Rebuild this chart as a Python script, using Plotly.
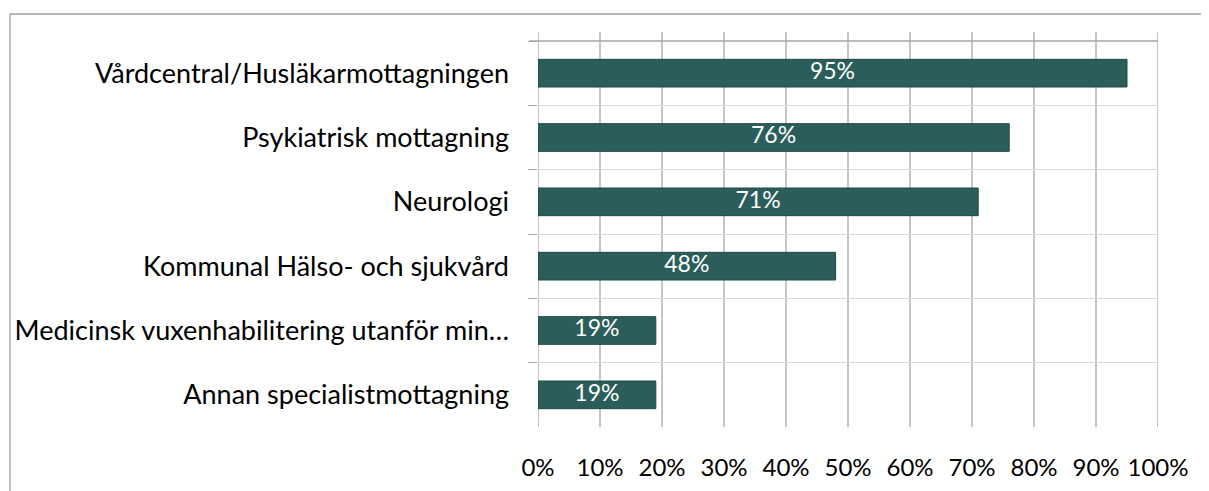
import plotly.graph_objects as go

categories = [
    "Vårdcentral/Husläkarmottagningen",
    "Psykiatrisk mottagning",
    "Neurologi",
    "Kommunal Hälso- och sjukvård",
    "Medicinsk vuxenhabilitering utanför min…",
    "Annan specialistmottagning",
]
values = [0.95, 0.76, 0.71, 0.48, 0.19, 0.19]
x_ticks = [0, 0.1, 0.2, 0.3, 0.4, 0.5, 0.6, 0.7, 0.8, 0.9, 1.0]
x_tick_labels = ["0%", "10%", "20%", "30%", "40%", "50%", "60%", "70%", "80%", "90%", "100%"]

FONT = "Lato"
OFF = 8  # default body margin of the html page
W, H = 1209 - OFF, 491 - OFF
L, R, T, B = 538 - OFF, 51, 41 - OFF, 64
pw, ph = W - L - R, H - T - B

fig = go.Figure()
fig.add_trace(go.Bar(
    y=categories, x=values, orientation="h",
    marker=dict(color="#2b5e5b", line=dict(color="#204845", width=1)),
    width=0.43,
    hoverinfo="skip",
))
fig.add_trace(go.Scatter(
    y=categories, x=[v / 2 for v in values], mode="text",
    text=[f"{round(v*100)}%" for v in values],
    textposition="middle center",
    textfont=dict(family=FONT, size=23, color="white"),
    hoverinfo="skip", cliponaxis=False,
))

shapes = []
for t in x_ticks:
    shapes.append(dict(type="line", xref="x", yref="paper", x0=t, x1=t,
                       y0=0, y1=1 + 9 / ph, line=dict(color="#a6a6a6", width=1.3), layer="below"))
shapes.append(dict(type="line", xref="paper", yref="paper", x0=-9 / pw, x1=1, y0=1, y1=1,
                   line=dict(color="#a6a6a6", width=1.3), layer="below"))
shapes.append(dict(type="rect", xref="paper", yref="paper",
                   x0=(10 - OFF - L) / pw, x1=(W + 5 - L) / pw,
                   y0=-(B + 20) / ph, y1=(ph + T - (14 - OFF)) / ph,
                   line=dict(color="#a0a0a0", width=1.3), fillcolor="rgba(0,0,0,0)", layer="below"))

fig.update_layout(
    width=W, height=H,
    margin=dict(l=L, r=R, t=T, b=B, autoexpand=False),
    paper_bgcolor="white", plot_bgcolor="white",
    showlegend=False,
    shapes=shapes,
    xaxis=dict(range=[0, 1], tickvals=x_ticks, ticktext=x_tick_labels,
               showgrid=False, zeroline=False, showline=False, ticks="",
               ticklabelstandoff=24,
               tickfont=dict(family=FONT, size=24, color="black")),
    yaxis=dict(categoryorder="array", categoryarray=categories,
               range=[5.5, -0.5], showgrid=True, gridcolor="#d9d9d9", gridwidth=1.3,
               tickson="boundaries", ticks="outside", ticklen=9, tickcolor="#a6a6a6",
               tickwidth=1.3, showline=False, zeroline=False,
               ticklabelstandoff=28,
               tickfont=dict(family=FONT, size=27, color="black")),
)
fig.write_html("out.html")
